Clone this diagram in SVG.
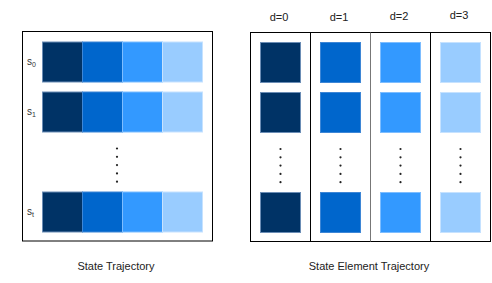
<svg xmlns="http://www.w3.org/2000/svg" width="492" height="283" viewBox="0 0 492 283">
<style>
text{font-family:"Liberation Sans",Arial,sans-serif;fill:#222}
.lbl{font-size:11px;text-anchor:middle}
.s{font-size:10px;fill:#333}
.sub{font-size:7px}
.frame{fill:none;stroke:#000;stroke-width:1}
.c0{fill:#003366;stroke:#6b8db5}
.c1{fill:#0066cc;stroke:#3d86d6}
.c2{fill:#3399ff;stroke:#7dbdff}
.c3{fill:#99ccff;stroke:#c6e2ff}
.dot{fill:#222}
</style>
<defs>
<g id="dots">
<circle class="dot" cx="0" cy="0" r="1.1"/>
<circle class="dot" cx="0" cy="8.3" r="1.1"/>
<circle class="dot" cx="0" cy="16.6" r="1.1"/>
<circle class="dot" cx="0" cy="24.9" r="1.1"/>
<circle class="dot" cx="0" cy="33.2" r="1.1"/>
</g>
</defs>
<g id="state-trajectory">
<rect class="frame" x="22.5" y="31.5" width="190" height="209.5"/>
<g id="row-s0">
<text class="s" x="27" y="65">s<tspan class="sub" dy="2">0</tspan></text>
<rect class="c0" x="42.5" y="42" width="40" height="40"/>
<rect class="c1" x="82.5" y="42" width="40" height="40"/>
<rect class="c2" x="122.5" y="42" width="40" height="40"/>
<rect class="c3" x="162.5" y="42" width="40" height="40"/>
</g>
<g id="row-s1">
<text class="s" x="27" y="115">s<tspan class="sub" dy="2">1</tspan></text>
<rect class="c0" x="42.5" y="92" width="40" height="40"/>
<rect class="c1" x="82.5" y="92" width="40" height="40"/>
<rect class="c2" x="122.5" y="92" width="40" height="40"/>
<rect class="c3" x="162.5" y="92" width="40" height="40"/>
</g>
<use href="#dots" x="117" y="148.5"/>
<g id="row-st">
<text class="s" x="27" y="215">s<tspan class="sub" dy="2">t</tspan></text>
<rect class="c0" x="42.5" y="192" width="40" height="40"/>
<rect class="c1" x="82.5" y="192" width="40" height="40"/>
<rect class="c2" x="122.5" y="192" width="40" height="40"/>
<rect class="c3" x="162.5" y="192" width="40" height="40"/>
</g>
<text class="lbl" x="116" y="270">State Trajectory</text>
</g>
<g id="state-element-trajectory">
<rect class="frame" x="250.5" y="32.5" width="240" height="209"/>
<line x1="310.5" y1="32.5" x2="310.5" y2="241.5" stroke="#000"/>
<line x1="370.5" y1="32.5" x2="370.5" y2="241.5" stroke="#777"/>
<line x1="430.5" y1="32.5" x2="430.5" y2="241.5" stroke="#000"/>
<g id="col-d0">
<text class="lbl" x="279" y="21">d=0</text>
<rect class="c0" x="260.5" y="42.5" width="40" height="40"/>
<rect class="c0" x="260.5" y="92.5" width="40" height="40"/>
<use href="#dots" x="280.5" y="149"/>
<rect class="c0" x="260.5" y="192.5" width="40" height="40"/>
</g>
<g id="col-d1">
<text class="lbl" x="339" y="21">d=1</text>
<rect class="c1" x="320.5" y="42.5" width="40" height="40"/>
<rect class="c1" x="320.5" y="92.5" width="40" height="40"/>
<use href="#dots" x="340.5" y="149"/>
<rect class="c1" x="320.5" y="192.5" width="40" height="40"/>
</g>
<g id="col-d2">
<text class="lbl" x="399" y="20">d=2</text>
<rect class="c2" x="380.5" y="42.5" width="40" height="40"/>
<rect class="c2" x="380.5" y="92.5" width="40" height="40"/>
<use href="#dots" x="400.5" y="149"/>
<rect class="c2" x="380.5" y="192.5" width="40" height="40"/>
</g>
<g id="col-d3">
<text class="lbl" x="459" y="19">d=3</text>
<rect class="c3" x="440.5" y="42.5" width="40" height="40"/>
<rect class="c3" x="440.5" y="92.5" width="40" height="40"/>
<use href="#dots" x="460.5" y="149"/>
<rect class="c3" x="440.5" y="192.5" width="40" height="40"/>
</g>
<text class="lbl" x="369" y="270">State Element Trajectory</text>
</g>
</svg>
